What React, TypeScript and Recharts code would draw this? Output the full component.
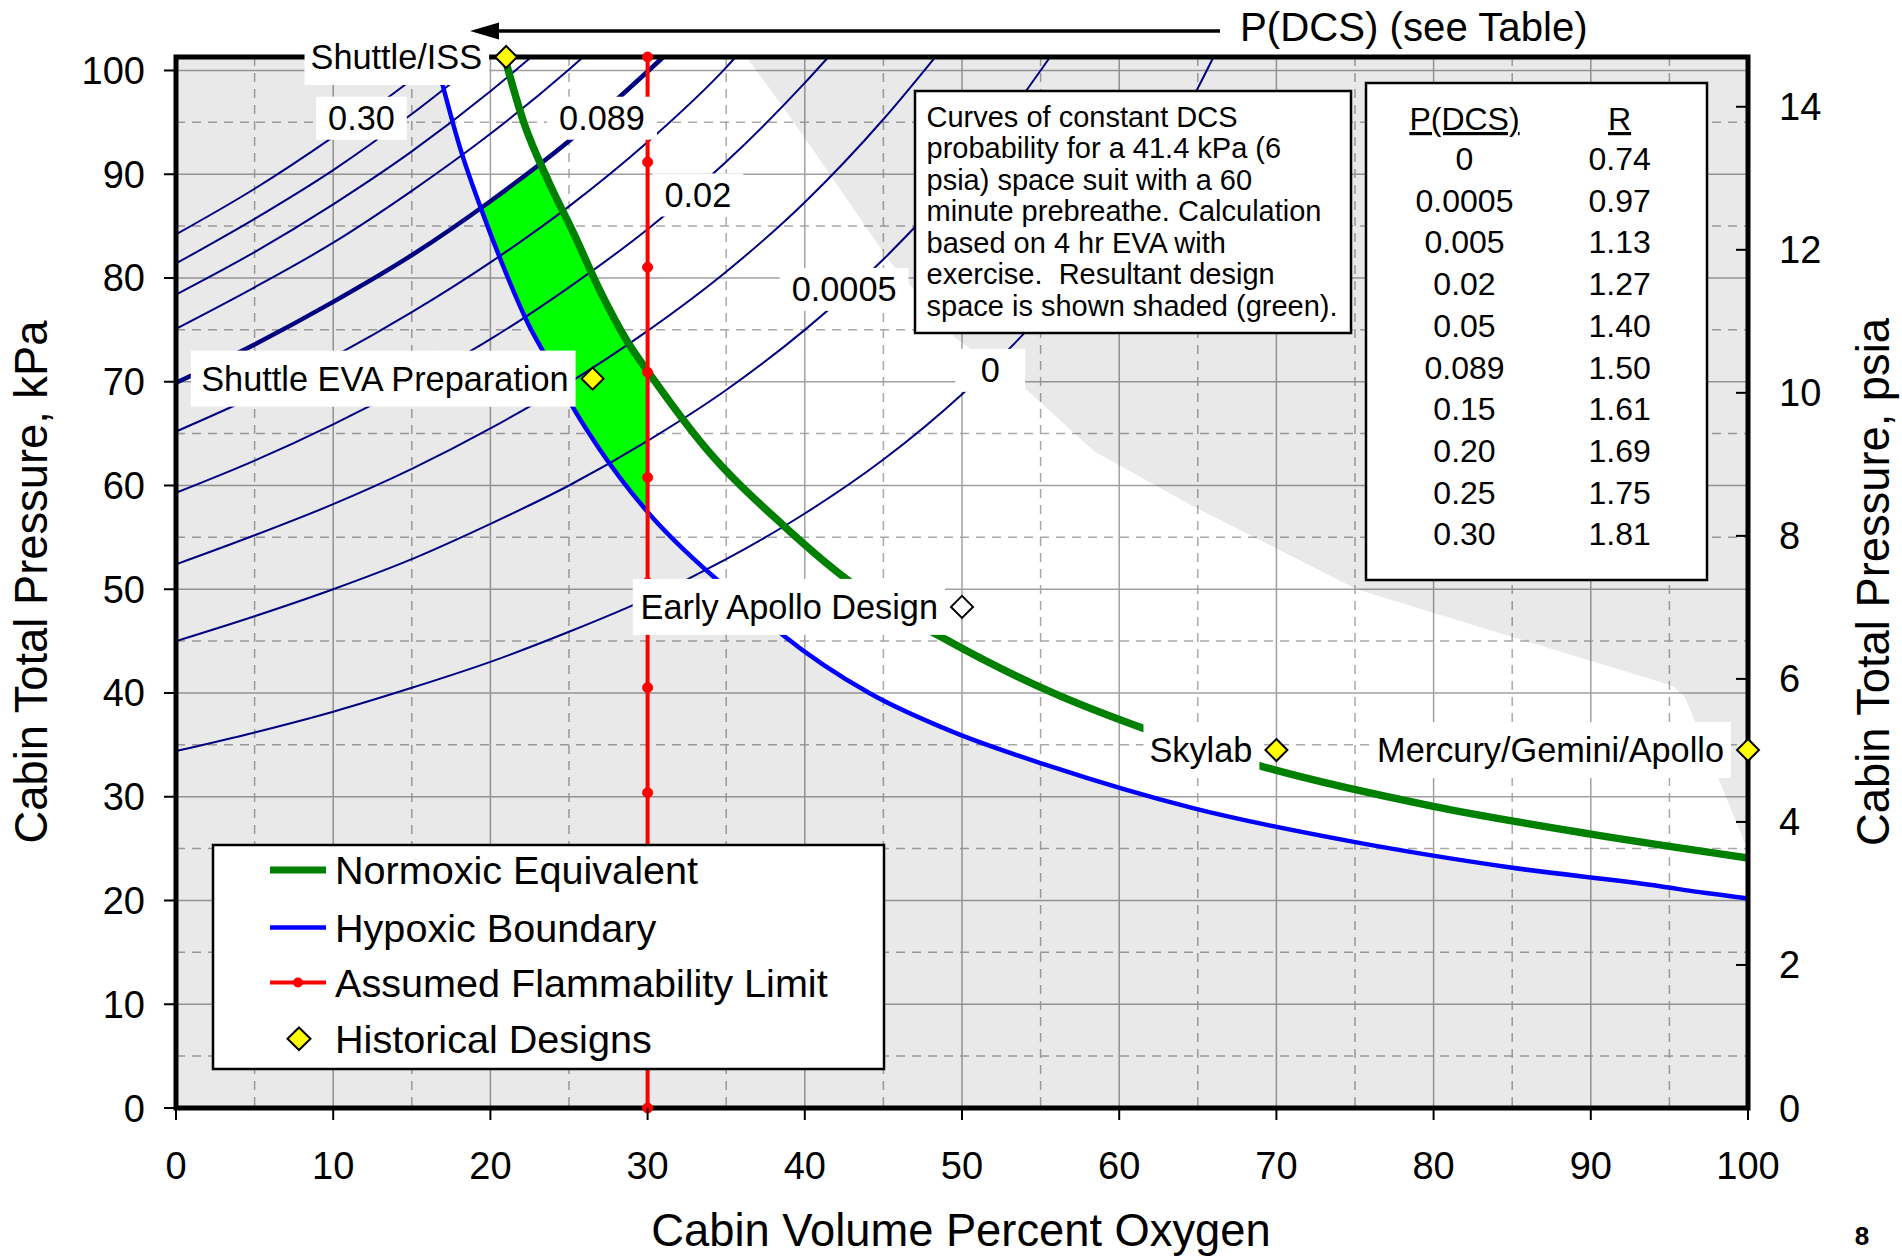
import React from "react";
import { ComposedChart, CartesianGrid, XAxis, YAxis, Area, Line, Scatter } from "recharts";

const FONT = "'Liberation Sans', Arial, Helvetica, sans-serif";
const TOP = 101.3; // sea level, top edge of the plot (kPa)
const TOP_PSIA = 14.696;

const o2Ticks = [0, 10, 20, 30, 40, 50, 60, 70, 80, 90, 100];
const kpaTicks = [0, 10, 20, 30, 40, 50, 60, 70, 80, 90, 100];
const psiaTicks = [0, 2, 4, 6, 8, 10, 12, 14];
const majorX = [10, 20, 30, 40, 50, 60, 70, 80, 90];
const majorY = [10, 20, 30, 40, 50, 60, 70, 80, 90, 100];
const minorXY = [5, 15, 25, 35, 45, 55, 65, 75, 85, 95];

// curves of constant P(DCS), read every 5 % O2 until they leave the top edge
const dcsO2 = [0, 5, 10, 15, 20, 25, 30, 35, 40, 45, 50, 55, 60, 65];
const dcs0 = [34.4, 36.2, 38.2, 40.5, 43.0, 45.9, 49.1, 52.9, 57.3, 62.5, 68.8, 76.4, 86.0, 98.3];
const dcs0005 = [45.0, 47.4, 50.0, 52.9, 56.3, 60.0, 64.3, 69.2, 75.0, 81.8, 90.0, 100.0];
const dcs005 = [52.4, 55.2, 58.2, 61.6, 65.5, 69.9, 74.9, 80.6, 87.3, 95.3];
const dcs02 = [59.3, 62.4, 65.9, 69.8, 74.1, 79.1, 84.7, 91.2, 98.8];
const dcs05 = [65.2, 68.6, 72.4, 76.7, 81.5, 86.9, 93.1, 100.3];
const dcs089 = [69.9, 73.6, 77.7, 82.2, 87.4, 93.2, 99.9];
const dcs15 = [75.1, 79.1, 83.4, 88.4, 93.9, 100.1];
const dcs20 = [78.4, 82.5, 87.1, 92.2, 98.0];
const dcs25 = [81.4, 85.7, 90.4, 95.8];
const dcs30 = [84.2, 88.6, 93.6, 99.1];
const dcsTopO2 = [66.0, 55.6, 48.3, 41.5, 35.6, 31.0, 25.9, 22.6, 19.6, 16.9];
const dcsCurves = [dcs0, dcs0005, dcs005, dcs02, dcs05, dcs089, dcs15, dcs20, dcs25, dcs30];

// table
const tableProb = ["0", "0.0005", "0.005", "0.02", "0.05", "0.089", "0.15", "0.20", "0.25", "0.30"];
const tableR = ["0.74", "0.97", "1.13", "1.27", "1.40", "1.50", "1.61", "1.69", "1.75", "1.81"];

// curve tags
const tagText = ["0.30", "0.089", "0.02", "0.0005", "0"];
const tagO2 = [11.8, 27.1, 33.2, 42.5, 51.8];
const tagKpa = [95.4, 95.4, 88.0, 78.9, 71.1];

const normoxicO2 = [20.9, 22.1, 23.7, 25.3, 26.9, 28.7, 30.3, 33.7, 38.6, 42.9, 48.8, 55.5, 61.7, 68.9, 79.9, 90, 100];
const normoxicKpa = [101.3, 95.1, 89.3, 84.3, 79.0, 73.9, 70.4, 63.6, 56.2, 50.7, 45.3, 40.2, 36.5, 33.0, 29.1, 26.4, 24.1];

const hypoxicO2 = [16.5, 18.1, 19.5, 20.8, 22.4, 23.7, 25.3, 26.9, 29.8, 34.2, 36.3, 38.6, 44.1, 49.5, 55.5, 64.7, 75.1, 84.8, 95.2, 96, 98, 100];
const hypoxicKpa = [101.3, 92.4, 86.3, 81.2, 75.6, 72.0, 67.4, 63.6, 57.8, 51.2, 48.6, 45.6, 40.0, 36.2, 33.0, 28.9, 25.6, 23.2, 21.2, 21.0, 20.6, 20.2];

// upper-right edge of the unshaded region
const upperO2 = [36.3, 38.6, 40, 45.4, 49.6, 54.2, 58.4, 64.7, 75.1, 84.8, 95.2, 96, 98, 100];
const upperKpa = [101.3, 96.5, 93.5, 81.6, 74.2, 69.1, 63.3, 58.0, 50.0, 45.5, 40.7, 39.6, 32.2, 24.8];

// green design space
const designO2 = [19.4, 20.8, 22.4, 23.25, 25.3, 26.9, 28.7, 30];
const designLow = [86.7, 81.2, 75.6, 73.1, 67.4, 63.6, 59.9, 57.5];
const designHigh = [86.7, 88.3, 90.1, 91.0, 84.3, 79.0, 73.9, 71.0];

const flamO2 = 30;
const flamKpa = [0, 10.13, 20.26, 30.39, 40.52, 50.65, 60.78, 70.91, 81.04, 91.17, 101.3];

const histNames = ["Shuttle/ISS", "Shuttle EVA Preparation", "Early Apollo Design", "Skylab", "Mercury/Gemini/Apollo"];
const histO2 = [21, 26.5, 50, 70, 100];
const histKpa = [101.3, 70.3, 48.3, 34.5, 34.5];
const OPEN_MARK = "Early Apollo Design";

const noteLines = [
  "Curves of constant DCS",
  "probability for a 41.4 kPa (6",
  "psia) space suit with a 60",
  "minute prebreathe. Calculation",
  "based on 4 hr EVA with",
  "exercise.  Resultant design",
  "space is shown shaded (green).",
];

const CW: Record<string, number> = {
  " ": 278, ".": 278, ",": 278, "/": 278, "(": 333, ")": 333, I: 278, S: 667, E: 667, V: 667, A: 667,
  P: 667, D: 722, M: 833, G: 778, i: 222, l: 222, t: 278, r: 333, c: 500, s: 500, y: 500, k: 500,
  x: 500, v: 500, m: 833, w: 722, f: 278, j: 222,
};
const textWidth = (s: string, size: number) => {
  let w = 0;
  for (const ch of s) w += CW[ch] ?? 556;
  return (w * size) / 1000;
};

const LeftTick = (p: any) => (
  <g>
    <line x1={p.x - 12} x2={p.x} y1={p.y} y2={p.y} stroke="#000" strokeWidth={2} />
    <text x={p.x - 31} y={p.y + 13.5} textAnchor="end" fontSize={38} fontFamily={FONT} fill="#000">
      {p.payload.value}
    </text>
  </g>
);

const RightTick = (p: any) => (
  <g>
    <line x1={p.x - 12} x2={p.x} y1={p.y} y2={p.y} stroke="#000" strokeWidth={2} />
    <text x={p.x + 31} y={p.y + 13.5} textAnchor="start" fontSize={38} fontFamily={FONT} fill="#000">
      {p.payload.value}
    </text>
  </g>
);

const BottomTick = (p: any) => (
  <g>
    <line x1={p.x} x2={p.x} y1={p.y} y2={p.y + 12} stroke="#000" strokeWidth={2} />
    <text x={p.x} y={p.y + 71} textAnchor="middle" fontSize={38} fontFamily={FONT} fill="#000">
      {p.payload.value}
    </text>
  </g>
);

const LABEL_FS = 34.3;

const CurveTag = (p: any) => {
  const w = Math.max(textWidth(p.payload.label, LABEL_FS) + 24, 70);
  return (
    <g>
      <rect x={p.cx - w / 2} y={p.cy - 21.5} width={w} height={43} fill="#fff" />
      <text x={p.cx} y={p.cy + 12} textAnchor="middle" fontSize={LABEL_FS} fontFamily={FONT} fill="#000">
        {p.payload.label}
      </text>
    </g>
  );
};

const HistMark = (p: any) => {
  const name = p.payload.label;
  const w = textWidth(name, LABEL_FS);
  const end = p.cx - 24;
  const d = 11;
  const { cx, cy } = p;
  return (
    <g>
      <rect x={end - w - 6} y={cy - 28} width={w + 13} height={56} fill="#fff" />
      <text x={end} y={cy + 12} textAnchor="end" fontSize={LABEL_FS} fontFamily={FONT} fill="#000">
        {name}
      </text>
      <polygon
        points={`${cx},${cy - d} ${cx + d},${cy} ${cx},${cy + d} ${cx - d},${cy}`}
        fill={name === OPEN_MARK ? "#fff" : "#ffff00"}
        stroke="#000"
        strokeWidth={2}
      />
    </g>
  );
};

export default function App() {
  const pts = (xs: number[], ys: number[]) => xs.map((o2, i) => ({ o2, kpa: ys[i] }));
  const grayLeft = [
    { o2: 0, band: [0, TOP] },
    { o2: hypoxicO2[0], band: [0, TOP] },
  ];
  const grayBelow = hypoxicO2.map((o2, i) => ({ o2, band: [0, hypoxicKpa[i]] }));
  const grayAbove = upperO2.map((o2, i) => ({ o2, band: [upperKpa[i], TOP] }));
  const design = designO2.map((o2, i) => ({ o2, band: [designLow[i], designHigh[i]] }));
  const frame = [
    { o2: 0, kpa: 0 },
    { o2: 100, kpa: 0 },
    { o2: 100, kpa: TOP },
    { o2: 0, kpa: TOP },
    { o2: 0, kpa: 0 },
  ];
  // invisible span so the psia axis gets its scale
  const psiaSpan = [
    { o2: 0, kpa: 0 },
    { o2: 100, kpa: TOP_PSIA },
  ];
  const tags = tagText.map((label, i) => ({ o2: tagO2[i], kpa: tagKpa[i], label }));
  const hist = histNames.map((label, i) => ({ o2: histO2[i], kpa: histKpa[i], label }));
  const grayFill = { fill: "#000", fillOpacity: 0.085, stroke: "none" };

  return (
    <div style={{ position: "absolute", left: 0, top: 0, width: 1902, height: 1259, background: "#fff" }}>
      <ComposedChart width={1902} height={1259} margin={{ top: 57, right: 0, bottom: 0, left: 0 }}>
        <CartesianGrid
          verticalValues={minorXY}
          horizontalValues={minorXY}
          stroke="#a8a8a8"
          strokeWidth={1.5}
          strokeDasharray="9 7"
        />
        <CartesianGrid verticalValues={majorX} horizontalValues={majorY} stroke="#a0a0a0" strokeWidth={1.5} />
        <XAxis
          dataKey="o2"
          type="number"
          domain={[0, 100]}
          ticks={o2Ticks}
          interval={0}
          height={151}
          axisLine={false}
          tickLine={false}
          tickSize={0}
          tickMargin={0}
          tick={BottomTick}
        />
        <YAxis
          type="number"
          domain={[0, TOP]}
          ticks={kpaTicks}
          interval={0}
          width={176}
          axisLine={false}
          tickLine={false}
          tickSize={0}
          tickMargin={0}
          tick={LeftTick}
        />
        <YAxis
          yAxisId="psi"
          orientation="right"
          type="number"
          domain={[0, TOP_PSIA]}
          ticks={psiaTicks}
          interval={0}
          width={154}
          axisLine={false}
          tickLine={false}
          tickSize={0}
          tickMargin={0}
          tick={RightTick}
        />

        <Line
          yAxisId="psi"
          data={psiaSpan}
          dataKey="kpa"
          stroke="none"
          dot={false}
          activeDot={false}
          isAnimationActive={false}
        />

        <Area data={grayLeft} dataKey="band" type="linear" {...grayFill} dot={false} activeDot={false} isAnimationActive={false} />
        <Area data={grayBelow} dataKey="band" type="monotone" {...grayFill} dot={false} activeDot={false} isAnimationActive={false} />
        <Area data={grayAbove} dataKey="band" type="linear" {...grayFill} dot={false} activeDot={false} isAnimationActive={false} />
        <Area
          data={design}
          dataKey="band"
          type="linear"
          fill="#00ff00"
          fillOpacity={1}
          stroke="none"
          dot={false}
          activeDot={false}
          isAnimationActive={false}
        />

        {dcsCurves.map((vals, i) => (
          <Line
            key={"dcs" + i}
            data={[...pts(dcsO2.slice(0, vals.length), vals), { o2: dcsTopO2[i], kpa: TOP }]}
            dataKey="kpa"
            type="monotone"
            stroke="#000080"
            strokeWidth={i === 5 ? 4.5 : 2}
            dot={false}
            activeDot={false}
            isAnimationActive={false}
          />
        ))}

        <Line
          data={pts(hypoxicO2, hypoxicKpa)}
          dataKey="kpa"
          type="monotone"
          stroke="#0000ff"
          strokeWidth={4.5}
          dot={false}
          activeDot={false}
          isAnimationActive={false}
        />
        <Line
          data={pts(normoxicO2, normoxicKpa)}
          dataKey="kpa"
          type="monotone"
          stroke="#008000"
          strokeWidth={7.5}
          dot={false}
          activeDot={false}
          isAnimationActive={false}
        />
        <Line
          data={flamKpa.map((kpa) => ({ o2: flamO2, kpa }))}
          dataKey="kpa"
          type="linear"
          stroke="#ff0000"
          strokeWidth={4}
          dot={{ r: 5, fill: "#ff0000", stroke: "#ff0000", strokeWidth: 1 }}
          activeDot={false}
          isAnimationActive={false}
        />
        <Line
          data={frame}
          dataKey="kpa"
          type="linear"
          stroke="#000"
          strokeWidth={5}
          strokeLinejoin="miter"
          strokeLinecap="square"
          dot={false}
          activeDot={false}
          isAnimationActive={false}
        />

        <Scatter data={tags} dataKey="kpa" shape={CurveTag} isAnimationActive={false} />
        <Scatter data={hist} dataKey="kpa" shape={HistMark} isAnimationActive={false} />
      </ComposedChart>

      <svg
        width={1902}
        height={1259}
        style={{ position: "absolute", left: 0, top: 0, pointerEvents: "none" }}
        fontFamily={FONT}
      >
        {/* arrow to the table */}
        <line x1={492} y1={31} x2={1220} y2={31} stroke="#000" strokeWidth={3.5} />
        <polygon points="470,31 499,22.5 499,39.5" fill="#000" />
        <text x={1240} y={41} fontSize={40.2} fill="#000">
          P(DCS) (see Table)
        </text>

        {/* axis titles */}
        <text transform="translate(47,582) rotate(-90)" textAnchor="middle" fontSize={45.3} fill="#000">
          Cabin Total Pressure, kPa
        </text>
        <text transform="translate(1889,582) rotate(-90)" textAnchor="middle" fontSize={45.3} fill="#000">
          Cabin Total Pressure, psia
        </text>
        <text x={961} y={1246} textAnchor="middle" fontSize={45.3} fill="#000">
          Cabin Volume Percent Oxygen
        </text>
        <text x={1862} y={1245} textAnchor="middle" fontSize={26} fontWeight="bold" fill="#000">
          8
        </text>

        {/* note */}
        <rect x={915} y={91} width={436} height={242} fill="#fff" stroke="#000" strokeWidth={2.5} />
        {noteLines.map((t, i) => (
          <text key={i} x={926.5} y={126.7 + i * 31.5} fontSize={29} fill="#000" style={{ whiteSpace: "pre" }}>
            {t}
          </text>
        ))}

        {/* table */}
        <rect x={1366} y={83} width={341} height={497} fill="#fff" stroke="#000" strokeWidth={2.5} />
        <text x={1464.5} y={130} textAnchor="middle" fontSize={32} textDecoration="underline" fill="#000">
          P(DCS)
        </text>
        <text x={1619.6} y={130} textAnchor="middle" fontSize={32} textDecoration="underline" fill="#000">
          R
        </text>
        {tableProb.map((p, i) => (
          <g key={p}>
            <text x={1464.5} y={170 + i * 41.7} textAnchor="middle" fontSize={32} fill="#000">
              {p}
            </text>
            <text x={1619.6} y={170 + i * 41.7} textAnchor="middle" fontSize={32} fill="#000">
              {tableR[i]}
            </text>
          </g>
        ))}

        {/* legend */}
        <rect x={213} y={845} width={671} height={224} fill="#fff" stroke="#000" strokeWidth={2.5} />
        <line x1={270} x2={326} y1={870} y2={870} stroke="#008000" strokeWidth={7} />
        <text x={335} y={884} fontSize={39.6} fill="#000">Normoxic Equivalent</text>
        <line x1={270} x2={326} y1={927.5} y2={927.5} stroke="#0000ff" strokeWidth={4.5} />
        <text x={335} y={941.5} fontSize={39.6} fill="#000">Hypoxic Boundary</text>
        <line x1={270} x2={326} y1={982.5} y2={982.5} stroke="#ff0000" strokeWidth={4} />
        <circle cx={298} cy={982.5} r={5} fill="#ff0000" />
        <text x={335} y={996.5} fontSize={39.6} fill="#000">Assumed Flammability Limit</text>
        <polygon points="299,1027.5 310.5,1038.7 299,1050 287.5,1038.7" fill="#ffff00" stroke="#000" strokeWidth={2} />
        <text x={335} y={1052.5} fontSize={39.6} fill="#000">Historical Designs</text>
      </svg>
    </div>
  );
}
